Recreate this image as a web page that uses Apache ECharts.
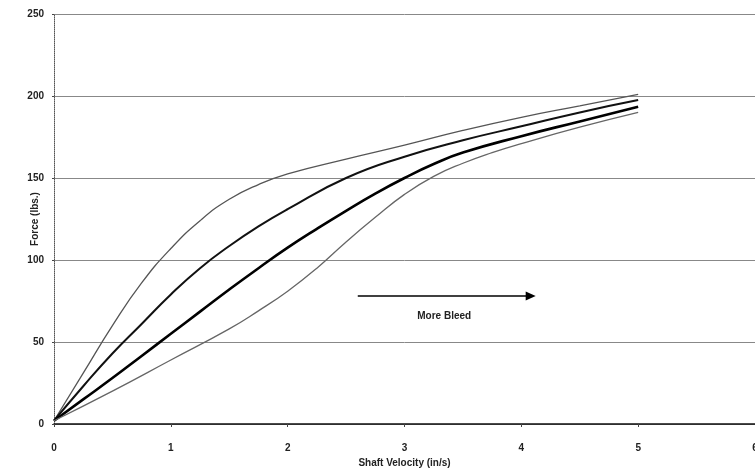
<!DOCTYPE html>
<html>
<head>
<meta charset="utf-8">
<script src="https://cdn.jsdelivr.net/npm/echarts@6/dist/echarts.min.js"></script>
<style>html,body{margin:0;padding:0;background:#fff;}#c{width:755px;height:471px;}</style>
</head>
<body>
<div id="c"></div>
<script>
// Shaft velocity (in/s) and force (lbs.) for four bleed settings
const curveA = [[0,2],[0.25,31],[0.5,60],[0.75,86],[1,107],[1.25,124],[1.5,137],[1.75,146],[2,152.5],[2.5,161.5],[3,170],[3.5,179],[4,187],[4.5,194],[5,201]];
const curveB = [[0,2],[0.25,23],[0.5,43],[0.75,61],[1,79],[1.25,95],[1.5,108.5],[1.75,120.5],[2,131],[2.5,150],[3,163],[3.5,173],[4,181.5],[4.5,190],[5,197.5]];
const curveC = [[0,2],[0.25,15],[0.5,28],[0.75,41.5],[1,55],[1.25,68.5],[1.5,82],[1.75,95],[2,107.5],[2.25,119],[2.5,130],[2.75,140.5],[3,150],[3.25,158.5],[3.5,165.5],[4,175.5],[4.5,184.5],[5,193.5]];
const curveD = [[0,2],[0.5,20],[1,39],[1.5,58],[1.75,69],[2,81],[2.25,95],[2.5,111],[2.75,126],[3,140],[3.25,151],[3.5,159],[3.75,165.5],[4,171],[4.5,181],[5,190]];
const arrowStart = [2.6, 78];
const arrowEnd = [4.08, 78];
const arrowLabel = 'More Bleed';
const xTicks = [0, 1, 2, 3, 4, 5, 6];
const yTicks = [0, 50, 100, 150, 200, 250];

const font = 'Liberation Sans, Arial, sans-serif';
const chart = echarts.init(document.getElementById('c'));
function lineSeries(data, color, width) {
  return { type: 'line', data: data, smooth: 0.5, showSymbol: false, symbol: 'none',
    lineStyle: { color: color, width: width }, animation: false, z: 3 };
}
const series = [
  lineSeries(curveA, '#555', 1.3),
  lineSeries(curveB, '#111', 2),
  lineSeries(curveC, '#000', 2.6),
  lineSeries(curveD, '#666', 1.3)
];
series[1].markLine = {
  silent: true, animation: false,
  symbol: ['none', 'triangle'], symbolSize: [9, 10],
  lineStyle: { color: '#000', width: 1.6, type: 'solid' },
  label: { show: true, position: 'insideMiddleBottom', formatter: arrowLabel, distance: 15,
    fontFamily: font, fontSize: 10, fontWeight: 'bold', color: '#222' },
  data: [[{ coord: arrowStart }, { coord: arrowEnd }]]
};
chart.setOption({
  animation: false,
  backgroundColor: '#fff',
  grid: { left: 54, right: 0, top: 14, bottom: 47, containLabel: false, outerBoundsMode: 'none' },
  xAxis: {
    type: 'value', min: xTicks[0], max: xTicks[xTicks.length - 1], interval: 1,
    name: 'Shaft Velocity (in/s)', nameLocation: 'middle', nameGap: 34, nameMoveOverlap: false,
    nameTextStyle: { fontFamily: font, fontSize: 10, fontWeight: 'bold', color: '#222' },
    axisLine: { lineStyle: { color: '#111', width: 1.5 } },
    axisTick: { show: true, length: 3, lineStyle: { color: '#444' } },
    axisLabel: { margin: 19, fontFamily: font, fontSize: 10, fontWeight: 'bold', color: '#222',
      formatter: v => xTicks.includes(v) ? String(v) : '' },
    splitLine: { show: false }
  },
  yAxis: {
    type: 'value', min: yTicks[0], max: yTicks[yTicks.length - 1], interval: 50,
    name: 'Force (lbs.)', nameLocation: 'middle', nameGap: 14, nameRotate: 90, nameMoveOverlap: false,
    nameTextStyle: { fontFamily: font, fontSize: 10, fontWeight: 'bold', color: '#222' },
    axisLine: { show: true, lineStyle: { color: '#555', width: 1, type: 'dotted' } },
    axisTick: { show: true, length: 2, lineStyle: { color: '#444' } },
    axisLabel: { margin: 10, fontFamily: font, fontSize: 10, fontWeight: 'bold', color: '#222',
      formatter: v => yTicks.includes(v) ? String(v) : '' },
    splitLine: { show: true, lineStyle: { color: '#888', width: 1 } }
  },
  series: series
});
</script>
</body>
</html>
